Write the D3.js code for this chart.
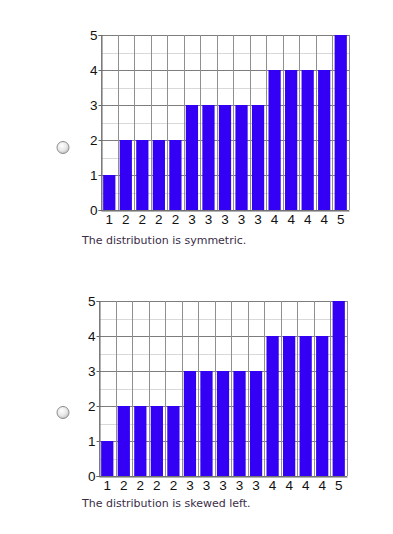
<!DOCTYPE html>
<html>
<head>
<meta charset="utf-8">
<script src="https://cdn.jsdelivr.net/npm/d3@7"></script>
<style>
  html, body { margin: 0; padding: 0; background: #fff; }
  svg { display: block; }
</style>
</head>
<body>
<svg id="chart" width="393" height="534"></svg>
<script>
// ---- data ----
const xLabels = ["1","2","2","2","2","3","3","3","3","3","4","4","4","4","5"];
const valuesA = [1,2,2,2,2,3,3,3,3,3,4,4,4,4,5];
const valuesB = [1,2,2,2,2,3,3,3,3,3,4,4,4,4,5];
const yTicks = [0,1,2,3,4,5];
const captions = ["The distribution is symmetric.", "The distribution is skewed left."];

const svg = d3.select("#chart");
const defs = svg.append("defs");
const grad = defs.append("radialGradient").attr("id","radioGrad")
  .attr("cx","40%").attr("cy","35%").attr("r","70%");
grad.append("stop").attr("offset","0%").attr("stop-color","#ffffff");
grad.append("stop").attr("offset","60%").attr("stop-color","#e6e6e6");
grad.append("stop").attr("offset","100%").attr("stop-color","#bdbdbd");

const panels = [
  { values: valuesA, caption: captions[0], left: 101, top: 35, radioY: 147.5, labelOff: 4, captionOff: 30 },
  { values: valuesB, caption: captions[1], left: 99,  top: 301, radioY: 412.5, labelOff: 3.5, captionOff: 27 }
];
const W = 248, H = 175;
const tickFont = "13.5px";

panels.forEach(p => {
  const g = svg.append("g");
  const x = d3.scaleBand().domain(d3.range(xLabels.length))
    .range([p.left, p.left + W]).paddingInner(0.26).paddingOuter(0.13);
  const y = d3.scaleLinear().domain([0, 5]).range([p.top + H, p.top]);
  const step = x.step();

  // minor horizontal grid
  g.selectAll(".minor").data(d3.range(0.5, 5, 1)).join("line")
    .attr("x1", p.left).attr("x2", p.left + W)
    .attr("y1", d => Math.round(y(d)) + 0.5).attr("y2", d => Math.round(y(d)) + 0.5)
    .attr("stroke", "#d9d9d9").attr("stroke-width", 1);
  // major horizontal grid
  g.selectAll(".major").data(yTicks).join("line")
    .attr("x1", p.left).attr("x2", p.left + W)
    .attr("y1", d => Math.round(y(d)) + 0.5).attr("y2", d => Math.round(y(d)) + 0.5)
    .attr("stroke", "#7d7d7d").attr("stroke-width", 1);
  // vertical grid at column boundaries
  g.selectAll(".vgrid").data(d3.range(xLabels.length + 1)).join("line")
    .attr("x1", i => Math.round(p.left + i * step) + 0.5).attr("x2", i => Math.round(p.left + i * step) + 0.5)
    .attr("y1", p.top).attr("y2", p.top + H)
    .attr("stroke", "#8f8f8f").attr("stroke-width", 1);

  // bars
  g.selectAll(".bar").data(p.values).join("rect")
    .attr("x", (d, i) => x(i)).attr("width", x.bandwidth())
    .attr("y", d => y(d)).attr("height", d => y(0) - y(d))
    .attr("fill", "#3300f5");

  // y axis
  const ya = d3.axisLeft(y).tickValues(yTicks).tickSize(3).tickPadding(1).tickFormat(d3.format("d"));
  const yg = g.append("g").attr("transform", `translate(${p.left + 0.5},0)`).call(ya);
  yg.select(".domain").attr("stroke", "#666");
  yg.selectAll(".tick line").attr("stroke", "#666");
  yg.selectAll("text").attr("fill", "#111").style("font-family", "'Liberation Sans', Arial, sans-serif").style("font-size", tickFont);

  // x axis
  const xa = d3.axisBottom(x).tickSize(0).tickPadding(p.labelOff).tickFormat(i => xLabels[i]);
  const xg = g.append("g").attr("transform", `translate(0,${p.top + H + 0.5})`).call(xa);
  xg.select(".domain").attr("stroke", "#666");
  xg.selectAll("text").attr("fill", "#111").style("font-family", "'Liberation Sans', Arial, sans-serif").style("font-size", tickFont);

  // caption
  g.append("text").attr("x", 82).attr("y", p.top + H + p.captionOff)
    .attr("dominant-baseline", "central")
    .attr("fill", "#3a2d48")
    .style("font-family", "'DejaVu Sans', Verdana, sans-serif").style("font-size", "11px")
    .text(p.caption);

  // radio button
  g.append("circle").attr("cx", 63).attr("cy", p.radioY).attr("r", 6)
    .attr("fill", "url(#radioGrad)").attr("stroke", "#8c8c8c").attr("stroke-width", 1);
});
</script>
</body>
</html>
